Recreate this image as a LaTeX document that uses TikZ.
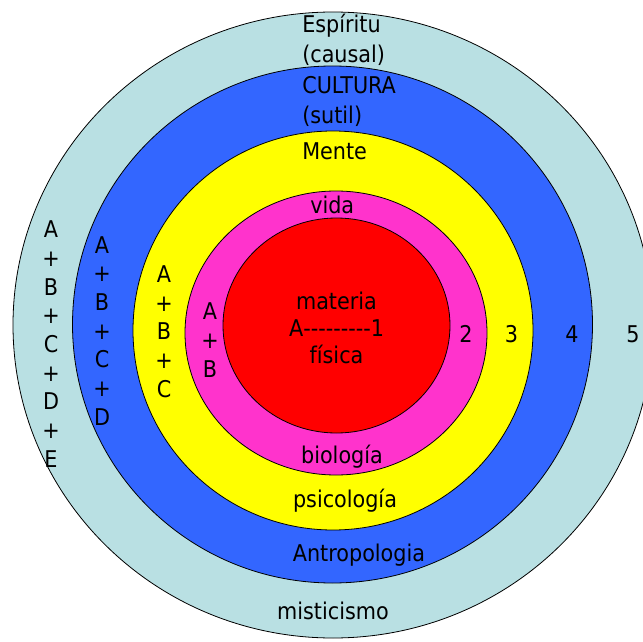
\documentclass[tikz,border=0pt]{standalone}
\usepackage{fontspec}
\setmainfont{DejaVu Sans Condensed}
\definecolor{espirituc}{RGB}{185,224,227}
\definecolor{culturac}{RGB}{51,102,255}
\definecolor{mentec}{RGB}{255,255,0}
\definecolor{vidac}{RGB}{255,51,204}
\definecolor{materiac}{RGB}{255,0,0}
\newcommand{\hy}{\mbox{-}}
\begin{document}
\begin{tikzpicture}[x=0.75pt, y=-0.75pt,
  ring/.style={draw=black, line width=0.6pt},
  txt/.style={inner sep=0pt, font=\fontsize{17.3}{21.5}\selectfont}]
  \useasboundingbox (0,0) rectangle (643,642);

  % rings, from outside in
  \draw[ring, fill=espirituc] (333,325) ellipse [x radius=320, y radius=313];
  \draw[ring, fill=culturac] (332.5,324.5) ellipse [x radius=260, y radius=258.5];
  \draw[ring, fill=mentec] (333,330.5) ellipse [x radius=200, y radius=199.5];
  \draw[ring, fill=vidac] (336,333) ellipse [x radius=151, y radius=142];
  \draw[ring, fill=materiac] (336.5,325.5) ellipse [x radius=113.5, y radius=107.5];

  % names of the rings (base = last line)
  \node[txt, anchor=base west, align=left, font=\fontsize{17.3}{22.5}\selectfont] (espiritu) at (302,63) {Espíritu\\(causal)};
  \node[txt, anchor=base west, align=left, font=\fontsize{17.3}{22.5}\selectfont] (cultura) at (302,123) {CULTURA\\(sutil)};
  \node[txt, anchor=base west] (mente) at (302,160) {Mente};
  \node[txt, anchor=base west] (vida) at (310,213) {vida};
  \node[txt, anchor=base, align=center, font=\fontsize{17.3}{20.25}\selectfont] (materia) at (336.5,363)
    {materia\\A\hy\hy\hy\hy\hy\hy\hy\hy\hy1\\física};

  \node[txt, anchor=base] (biologia) at (342,463) {biología};
  \node[txt, anchor=base] (psicologia) at (345,507) {psicología};
  \node[txt, anchor=base] (antropologia) at (359,561) {Antropologia};
  \node[txt, anchor=base] (misticismo) at (333,619) {misticismo};

  % levels
  \node[txt, anchor=base] (n2) at (466,342) {2};
  \node[txt, anchor=base] (n3) at (511.5,342) {3};
  \node[txt, anchor=base] (n4) at (572,342) {4};
  \node[txt, anchor=base] (n5) at (633,342) {5};

  % sums
  \node[txt, anchor=base, align=center] (sumE) at (51,467) {A\\+\\B\\+\\C\\+\\D\\+\\E};
  \node[txt, anchor=base, align=center] (sumD) at (102,425) {A\\+\\B\\+\\C\\+\\D};
  \node[txt, anchor=base, align=center] (sumC) at (164,397) {A\\+\\B\\+\\C};
  \node[txt, anchor=base, align=center] (sumB) at (210,377) {A\\+\\B};
\end{tikzpicture}
\end{document}
